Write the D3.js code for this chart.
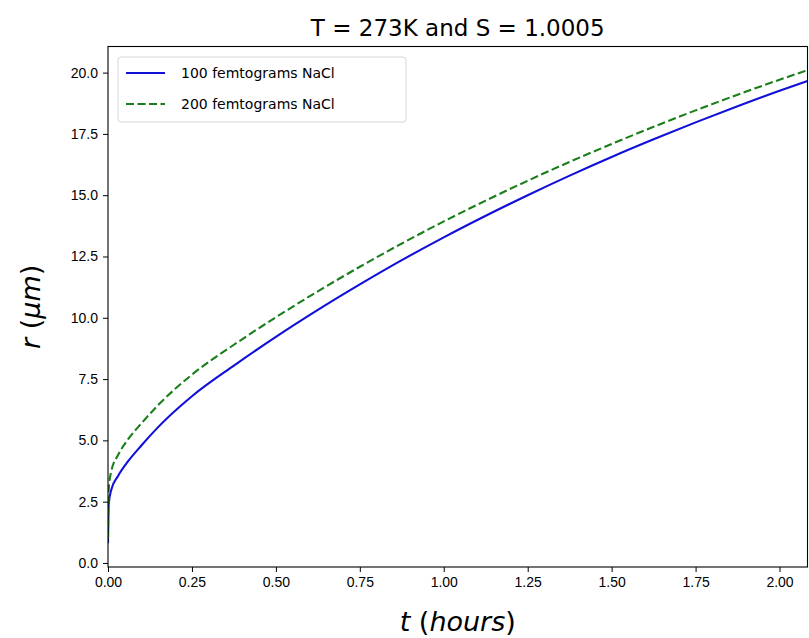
<!DOCTYPE html>
<meta charset="utf-8">
<style>
body { margin: 0; background: #fff; }
svg { font-family: "DejaVu Sans", sans-serif; }
.tick text { font-size: 14px; fill: #000; }
.tick line, .domain { stroke: #000; }
</style>
<body></body>
<script src="https://cdn.jsdelivr.net/npm/d3@7"></script>
<script>

// time in hours, radius in micrometres
var times = [0, 0.002, 0.01, 0.03, 0.06, 0.1, 0.15, 0.25, 0.375, 0.5, 0.625, 0.75, 0.875,
             1.0, 1.125, 1.25, 1.375, 1.5, 1.625, 1.75, 1.875, 2.0, 2.0833];
var r100 = [0.8, 2.4, 3.0, 3.55, 4.15, 4.8, 5.55, 6.8, 8.05, 9.22, 10.32, 11.36, 12.35,
            13.28, 14.16, 15.0, 15.8, 16.56, 17.28, 17.97, 18.63, 19.26, 19.66];
var r200 = [1.0, 3.0, 3.75, 4.4, 5.05, 5.7, 6.45, 7.68, 8.9, 10.02, 11.08, 12.08, 13.03,
            13.93, 14.78, 15.59, 16.36, 17.09, 17.79, 18.46, 19.1, 19.71, 20.1];
var seriesNames = ["100 femtograms NaCl", "200 femtograms NaCl"];
var xTicks = [0, 0.25, 0.5, 0.75, 1.0, 1.25, 1.5, 1.75, 2.0];
var yTicks = [0, 2.5, 5, 7.5, 10, 12.5, 15, 17.5, 20];

var W = 809, H = 638;
var margin = {top: 46.5, right: 1.5, bottom: 71, left: 108};

var svg = d3.select("body").append("svg")
    .attr("width", W)
    .attr("height", H);

var x = d3.scaleLinear()
    .domain([0, d3.max(times)])
    .range([margin.left, W - margin.right]);

// matplotlib style 5% margin on y
var ymin = d3.min(r100.concat(r200)), ymax = d3.max(r100.concat(r200));
var pad = (ymax - ymin) * 0.05;
var y = d3.scaleLinear()
    .domain([ymin - pad, ymax + pad])
    .range([H - margin.bottom, margin.top]);

var series = [
  {name: seriesNames[0], values: r100, color: "#1010d8", dash: null},
  {name: seriesNames[1], values: r200, color: "#1a7f1a", dash: "8,3.5"}
];

var line = d3.line()
    .x(function(d, i) { return x(times[i]); })
    .y(function(d) { return y(d); })
    .curve(d3.curveMonotoneX);

svg.append("clipPath").attr("id", "clip")
  .append("rect")
    .attr("x", margin.left).attr("y", margin.top)
    .attr("width", W - margin.left - margin.right)
    .attr("height", H - margin.top - margin.bottom);

svg.append("g")
    .attr("clip-path", "url(#clip)")
  .selectAll("path")
  .data(series)
  .enter().append("path")
    .attr("d", function(d) { return line(d.values); })
    .attr("fill", "none")
    .attr("stroke", function(d) { return d.color; })
    .attr("stroke-width", 2.1)
    .attr("stroke-dasharray", function(d) { return d.dash; });

// axes
svg.append("g")
    .attr("transform", "translate(0," + (H - margin.bottom) + ")")
    .call(d3.axisBottom(x).tickValues(xTicks).tickFormat(d3.format(".2f")).tickSize(5).tickPadding(5).tickSizeOuter(0))
    .call(function(g) { g.select(".domain").remove(); });

svg.append("g")
    .attr("transform", "translate(" + margin.left + ",0)")
    .call(d3.axisLeft(y).tickValues(yTicks).tickFormat(d3.format(".1f")).tickSize(5).tickPadding(5).tickSizeOuter(0))
    .call(function(g) { g.select(".domain").remove(); });

// frame
svg.append("rect")
    .attr("x", margin.left)
    .attr("y", margin.top)
    .attr("width", W - margin.left - margin.right)
    .attr("height", H - margin.top - margin.bottom)
    .attr("fill", "none")
    .attr("stroke", "#000")
    .attr("stroke-width", 1.1);

// title and labels
svg.append("text")
    .attr("x", (margin.left + W - margin.right) / 2)
    .attr("y", 36)
    .attr("text-anchor", "middle")
    .attr("font-size", 23)
    .text("T = 273K and S = 1.0005");

var xl = svg.append("text")
    .attr("x", (margin.left + W - margin.right) / 2)
    .attr("y", 631)
    .attr("text-anchor", "middle")
    .attr("font-size", 27);
xl.append("tspan").attr("font-style", "italic").text("t");
xl.append("tspan").text(" (");
xl.append("tspan").attr("font-style", "italic").text("hours");
xl.append("tspan").text(")");

var yl = svg.append("text")
    .attr("transform", "translate(40," + ((margin.top + H - margin.bottom) / 2) + ") rotate(-90)")
    .attr("text-anchor", "middle")
    .attr("font-size", 27);
yl.append("tspan").attr("font-style", "italic").text("r");
yl.append("tspan").text(" (");
yl.append("tspan").attr("font-style", "italic").text("μm");
yl.append("tspan").text(")");

// legend
var lg = svg.append("g").attr("transform", "translate(118,57)");
lg.append("rect")
    .attr("width", 288)
    .attr("height", 65)
    .attr("rx", 3)
    .attr("fill", "#fff")
    .attr("fill-opacity", 0.8)
    .attr("stroke", "#d6d6d6");

var item = lg.selectAll(".item")
  .data(series)
  .enter().append("g")
    .attr("class", "item")
    .attr("transform", function(d, i) { return "translate(0," + (16 + i * 31) + ")"; });
item.append("line")
    .attr("x1", 8).attr("x2", 47)
    .attr("stroke", function(d) { return d.color; })
    .attr("stroke-width", 2.1)
    .attr("stroke-dasharray", function(d) { return d.dash; });
item.append("text")
    .attr("x", 63)
    .attr("y", 5)
    .attr("font-size", 14)
    .text(function(d) { return d.name; });

</script>
